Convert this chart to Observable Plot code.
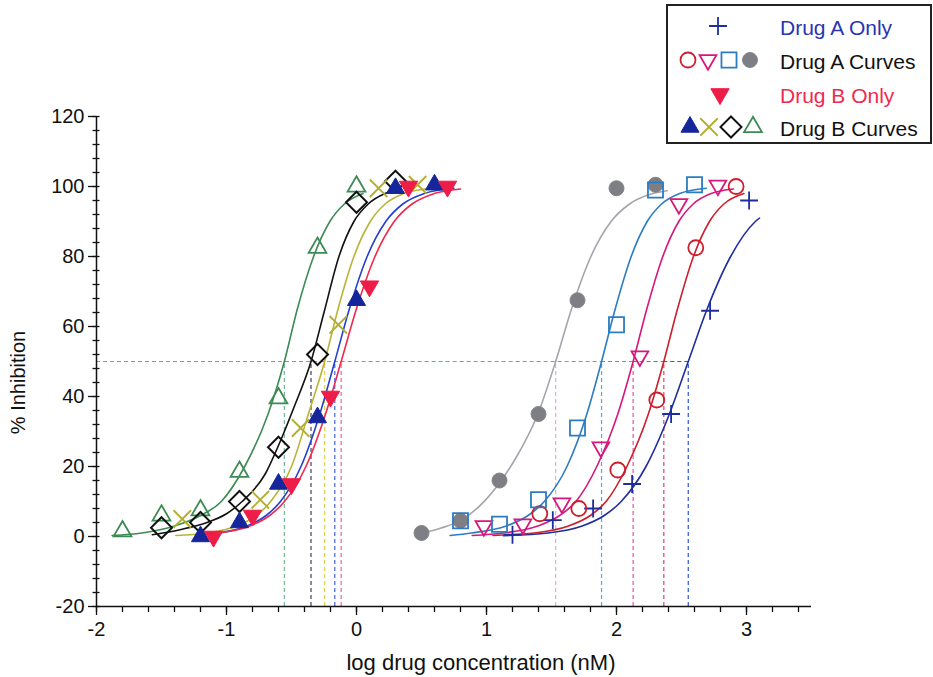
<!DOCTYPE html>
<html><head><meta charset="utf-8">
<script src="https://cdn.jsdelivr.net/npm/d3@7"></script>
<script src="https://cdn.jsdelivr.net/npm/@observablehq/plot@0.6"></script>
<style>
html,body{margin:0;padding:0;background:#fff;}
#wrap{position:relative;width:933px;height:677px;font-family:"Liberation Sans",Arial,sans-serif;}
#legend{position:absolute;left:666px;top:4px;}
</style></head><body><div id="wrap"></div>
<script>
// ---------- tick labels ----------
const xTickLabels = [-2, -1, 0, 1, 2, 3];
const yTickLabels = [-20, 0, 20, 40, 60, 80, 100, 120];

// ---------- Drug A (right group) ----------
// Drug A Only (+)
const aOnlyX = [1.2, 1.51, 1.82, 2.12, 2.42, 2.72, 3.02];
const aOnlyY = [0.5, 4.7, 8, 15, 35, 64.5, 96];
const aOnlyFitX = [1.13, 1.473, 1.736, 1.906, 2.036, 2.227, 2.407, 2.552, 2.697, 2.878, 3.068, 3.10];
const aOnlyFitY = [0.25, 1, 3, 6, 10, 20, 35, 50, 65, 80, 90, 91];
// Drug A curve: open circle
const aCircleX = [1.41, 1.71, 2.01, 2.31, 2.61, 2.92];
const aCircleY = [6.5, 8, 19, 39, 82.5, 100];
const aCircleFitX = [1.05, 1.366, 1.631, 1.799, 1.92, 2.08, 2.245, 2.364, 2.469, 2.592, 2.715, 2.826, 2.98];
const aCircleFitY = [0.3, 1, 3, 6, 10, 20, 35, 50, 65, 80, 90, 95, 98];
// Drug A curve: open down-triangle
const aTriX = [0.98, 1.28, 1.58, 1.88, 2.18, 2.48, 2.78];
const aTriY = [3, 3.5, 9.5, 25.5, 51.5, 95, 100.3];
const aTriFitX = [0.89, 1.13, 1.395, 1.563, 1.688, 1.855, 2.01, 2.128, 2.233, 2.356, 2.479, 2.59, 2.729, 2.90];
const aTriFitY = [0.3, 1, 3, 6, 10, 20.5, 35, 50, 65, 80, 90, 95, 98, 99.3];
// Drug A curve: open square
const aSquareX = [0.8, 1.1, 1.4, 1.7, 2.0, 2.3, 2.6];
const aSquareY = [4.5, 3.5, 10.5, 31, 60.5, 99, 100.5];
const aSquareFitX = [0.72, 0.887, 1.152, 1.32, 1.445, 1.619, 1.772, 1.885, 1.99, 2.113, 2.236, 2.347, 2.486, 2.69];
const aSquareFitY = [0.3, 1, 3, 6, 10, 20, 35, 50, 65, 80, 90, 95, 98, 99.5];
// Drug A curve: grey filled dot
const aDotX = [0.5, 0.8, 1.1, 1.4, 1.7, 2.0, 2.3];
const aDotY = [1, 4.5, 16, 35, 67.5, 99.5, 100.5];
const aDotFitX = [0.50, 0.65, 0.80, 0.95, 1.108, 1.25, 1.39, 1.532, 1.654, 1.803, 1.958, 2.10, 2.28, 2.39];
const aDotFitY = [0.9, 2.4, 4.6, 8.8, 15.7, 24, 34.5, 50, 65, 80, 90, 95, 98, 98.8];

// ---------- Drug B (left group) ----------
// Drug B Only (filled down-triangle)
const bOnlyX = [-1.1, -0.8, -0.5, -0.2, 0.1, 0.4, 0.7];
const bOnlyY = [0, 6, 15, 40, 71.5, 100, 100];
const bOnlyFitX = [-1.14, -1.056, -0.82, -0.668, -0.554, -0.389, -0.238, -0.118, -0.001, 0.142, 0.29, 0.427, 0.598, 0.80];
const bOnlyFitY = [0.5, 1, 3, 6, 10, 20, 35, 50, 65, 80, 90, 95, 98, 99.3];
// Drug B curve: filled up-triangle
const bTriX = [-1.2, -0.9, -0.6, -0.3, 0.0, 0.3, 0.6];
const bTriY = [0, 4, 15, 34, 67.5, 99.5, 100.5];
const bTriFitX = [-1.22, -1.067, -0.841, -0.695, -0.585, -0.427, -0.282, -0.167, -0.055, 0.082, 0.225, 0.356, 0.521, 0.75];
const bTriFitY = [0.4, 1, 3, 6, 10, 20, 35, 50, 65, 80, 90, 95, 98, 99.5];
// Drug B curve: cross
const bCrossX = [-1.34, -0.74, -0.43, -0.14, 0.17, 0.47];
const bCrossY = [5, 10.5, 31, 60.5, 99.5, 100.5];
const bCrossFitX = [-1.39, -1.15, -0.92, -0.77, -0.66, -0.50, -0.37, -0.245, -0.142, -0.02, 0.106, 0.22, 0.363, 0.53];
const bCrossFitY = [0.3, 1, 3, 6, 10, 20, 35, 50, 65, 80, 90, 95, 98, 99.3];
// Drug B curve: open diamond
const bDiamondX = [-1.5, -1.2, -0.9, -0.6, -0.3, 0.0, 0.3];
const bDiamondY = [2.5, 4, 10, 25.5, 52, 95.5, 101.5];
const bDiamondFitX = [-1.57, -1.35, -1.15, -1.0, -0.88, -0.70, -0.60, -0.48, -0.35, -0.25, -0.135, -0.02, 0.09, 0.22, 0.34];
const bDiamondFitY = [0.5, 2, 4, 6.5, 10, 18, 26, 37, 50, 64, 80, 90, 95, 98, 99.2];
// Drug B curve: open up-triangle
const bOpenX = [-1.8, -1.5, -1.2, -0.9, -0.6, -0.3, 0.0];
const bOpenY = [1.5, 6, 7.5, 18.5, 39.5, 82.5, 100];
const bOpenFitX = [-1.88, -1.65, -1.40, -1.20, -1.04, -0.86, -0.68, -0.555, -0.455, -0.33, -0.205, -0.093, 0.05];
const bOpenFitY = [0.3, 1, 3, 6, 10, 20, 35, 50, 65, 80, 90, 95, 98];

// IC50 (log nM) marked with dashed lines, in drawing order
const seriesKeys = ["aOnly", "aCircle", "aTri", "aDot", "aSquare", "bOpen", "bDiamond", "bCross", "bTri", "bOnly"];
const ic50Values = [2.552, 2.364, 2.128, 1.532, 1.885, -0.555, -0.35, -0.245, -0.167, -0.118];

// ---------- assemble ----------
const seriesData = {
  aOnly: [aOnlyX, aOnlyY, aOnlyFitX, aOnlyFitY],
  aCircle: [aCircleX, aCircleY, aCircleFitX, aCircleFitY],
  aTri: [aTriX, aTriY, aTriFitX, aTriFitY],
  aSquare: [aSquareX, aSquareY, aSquareFitX, aSquareFitY],
  aDot: [aDotX, aDotY, aDotFitX, aDotFitY],
  bOnly: [bOnlyX, bOnlyY, bOnlyFitX, bOnlyFitY],
  bTri: [bTriX, bTriY, bTriFitX, bTriFitY],
  bCross: [bCrossX, bCrossY, bCrossFitX, bCrossFitY],
  bDiamond: [bDiamondX, bDiamondY, bDiamondFitX, bDiamondFitY],
  bOpen: [bOpenX, bOpenY, bOpenFitX, bOpenFitY]
};

const styles = {
  aOnly:   {line:"#1f2e9c", dash:"#2f55d8", symbol:"plus", stroke:"#1f2e9c", fill:"none", r:5.8, rotate:0, sw:1.8},
  aCircle: {line:"#cc1f2e", dash:"#e0406e", symbol:"circle", stroke:"#cc1f2e", fill:"none", r:7.5, rotate:0, sw:1.8},
  aTri:    {line:"#d6177c", dash:"#e650b0", symbol:"triangle2", stroke:"#d6177c", fill:"none", r:8, rotate:180, sw:1.8},
  aSquare: {line:"#2b7cc2", dash:"#4aa6ee", symbol:"square", stroke:"#2b7cc2", fill:"none", r:8.5, rotate:0, sw:1.8},
  aDot:    {line:"#a4a4ad", dash:"#d6b0d6", symbol:"circle", stroke:"#85858c", fill:"#7e7e85", r:7.5, rotate:0, sw:1},
  bOnly:   {line:"#f0284e", dash:"#f060a8", symbol:"triangle", stroke:"#ee1d47", fill:"#ee1d47", r:6.8, rotate:180, sw:1},
  bTri:    {line:"#2440d0", dash:"#3f62e8", symbol:"triangle", stroke:"#14269a", fill:"#14269a", r:6.7, rotate:0, sw:1},
  bCross:  {line:"#b8b436", dash:"#d8d050", symbol:"times", stroke:"#b3ae30", fill:"none", r:8, rotate:0, sw:1.8},
  bDiamond:{line:"#111111", dash:"#404060", symbol:"diamond2", stroke:"#111111", fill:"none", r:9.5, rotate:0, sw:1.9},
  bOpen:   {line:"#3d8a55", dash:"#70b898", symbol:"triangle2", stroke:"#3d8a55", fill:"none", r:8.5, rotate:0, sw:1.8}
};

// vertical dashed drop lines at each IC50
const dashMarks = [];
seriesKeys.forEach((k, i) => {
  dashMarks.push(Plot.ruleX([ic50Values[i]], {y1: -20, y2: 50, stroke: styles[k].dash, strokeWidth: 1.2, strokeDasharray: "4,3"}));
});
// horizontal dashed lines at 50 %: only the visible (uncovered) part of each one
seriesKeys.forEach((k, i) => {
  const later = ic50Values.slice(i + 1);
  if (later.some(v => v >= ic50Values[i])) return;
  const x1 = later.length ? Math.max(-2, ...later) : -2;
  dashMarks.push(Plot.ruleY([50], {x1, x2: ic50Values[i], stroke: styles[k].dash, strokeWidth: 1.2, strokeDasharray: "4,3"}));
});

const lineMarks = [], dotMarks = [];
seriesKeys.forEach(k => {
  const [px, py, fx, fy] = seriesData[k];
  const st = styles[k];
  const fit = fx.map((x, j) => ({x, y: fy[j]}));
  const pts = px.map((x, j) => ({x, y: py[j]}));
  lineMarks.push(Plot.line(fit, {x: "x", y: "y", stroke: st.line, strokeWidth: 1.6, curve: "monotone-x"}));
  dotMarks.push(Plot.dot(pts, {x: "x", y: "y", symbol: st.symbol, r: st.r, stroke: st.stroke, fill: st.fill, strokeWidth: st.sw, rotate: st.rotate}));
});

const minorX = d3.range(-2, 3.45, 0.2).map(v => Math.round(v * 10) / 10);
const minorY = d3.range(-20, 121, 4);

const chart = Plot.plot({
  width: 933, height: 677,
  marginLeft: 96, marginRight: 122, marginTop: 116, marginBottom: 71,
  x: {domain: [-2, 3.5], label: null},
  y: {domain: [-20, 120], label: null},
  style: {fontFamily: "'Liberation Sans', Arial, sans-serif", fontSize: "20px", color: "#111", background: "white", overflow: "visible"},
  marks: [
    ...dashMarks,
    ...lineMarks,
    ...dotMarks,
    Plot.ruleX([-2], {y1: -20, y2: 120, stroke: "#111", strokeWidth: 1.5}),
    Plot.ruleY([-20], {x1: -2, x2: 3.5, stroke: "#111", strokeWidth: 1.5}),
    Plot.axisY({ticks: minorY, tickSize: 7, text: null, label: null, dx: 3.5, strokeWidth: 1.3}),
    Plot.axisY({ticks: yTickLabels, tickSize: 8, tickPadding: 4, fontSize: 20, label: null, strokeWidth: 1.3, tickFormat: d => String(d)}),
    Plot.axisX({ticks: minorX, tickSize: 6, text: null, label: null, strokeWidth: 1.3}),
    Plot.axisX({ticks: xTickLabels, tickSize: 9, tickPadding: 6, fontSize: 20, label: null, strokeWidth: 1.3, tickFormat: d => String(d)}),
    Plot.text(["log drug concentration (nM)"], {frameAnchor: "bottom", textAnchor: "middle", lineAnchor: "middle", dx: 27, dy: 56, fontSize: 22, fill: "#111"}),
    Plot.text(["% Inhibition"], {frameAnchor: "left", textAnchor: "middle", lineAnchor: "middle", dx: -78, dy: 21, rotate: -90, fontSize: 20, fill: "#111"})
  ]
});
document.getElementById("wrap").appendChild(chart);

// ---------- legend ----------
const legendLabels = ["Drug A Only", "Drug A Curves", "Drug B Only", "Drug B Curves"];
const legendColors = ["#2a35b0", "#111111", "#ee2a50", "#111111"];
const legendRows = [["aOnly"], ["aCircle", "aTri", "aSquare", "aDot"], ["bOnly"], ["bTri", "bCross", "bDiamond", "bOpen"]];

const leg = d3.select("#wrap").append("svg").attr("id", "legend").attr("width", 267).attr("height", 141);
leg.append("rect").attr("x", 1).attr("y", 1).attr("width", 264).attr("height", 138)
  .attr("fill", "white").attr("stroke", "#222").attr("stroke-width", 2);
const symMap = {plus: d3.symbolPlus, circle: d3.symbolCircle, triangle2: d3.symbolTriangle2, square: d3.symbolSquare,
  triangle: d3.symbolTriangle, times: d3.symbolTimes, diamond2: d3.symbolDiamond2};
const rowY = [22, 56, 90, 123];
const symX = [[52], [22, 42, 63, 84], [54], [24, 43, 65, 87]];
legendRows.forEach((row, i) => {
  row.forEach((k, j) => {
    const st = styles[k];
    leg.append("path")
      .attr("d", d3.symbol(symMap[st.symbol], st.r * st.r * Math.PI)())
      .attr("transform", `translate(${symX[i][j]},${rowY[i]}) rotate(${st.rotate})`)
      .attr("fill", st.fill).attr("stroke", st.stroke).attr("stroke-width", st.sw);
  });
  leg.append("text").attr("x", 114).attr("y", rowY[i] + 2).attr("dy", "0.35em")
    .attr("fill", legendColors[i]).attr("font-size", 21)
    .attr("font-family", "'Liberation Sans', Arial, sans-serif").text(legendLabels[i]);
});
</script></body></html>
